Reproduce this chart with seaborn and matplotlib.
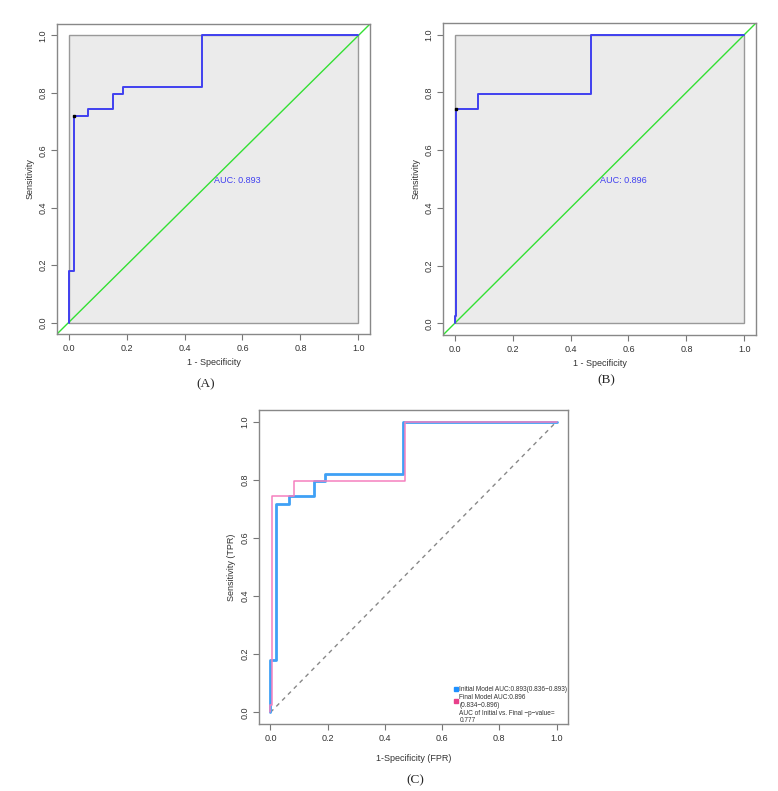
import matplotlib
matplotlib.use("Agg")
import matplotlib.pyplot as plt
import matplotlib.patches as mpatches
import pandas as pd
import seaborn as sns

sns.set_theme(style="white")
plt.rcParams['font.family'] = ['Liberation Sans', 'DejaVu Sans']

# ROC corner points (steps-post)
initial_fpr = [0.0, 0.0, 0.018, 0.066, 0.152, 0.189, 0.462, 1.0]
initial_tpr = [0.0, 0.179, 0.718, 0.744, 0.795, 0.821, 1.0, 1.0]
final_fpr = [0.0, 0.0, 0.005, 0.081, 0.472, 1.0]
final_tpr = [0.0, 0.026, 0.744, 0.795, 1.0, 1.0]

best_initial = (0.018, 0.718)
best_final = (0.005, 0.744)
auc_initial = 0.893
auc_final = 0.896
ci_initial = (0.836, 0.893)
ci_final = (0.834, 0.896)
p_value = 0.777

ticks = [0.0, 0.2, 0.4, 0.6, 0.8, 1.0]
tick_labels = ["0.0", "0.2", "0.4", "0.6", "0.8", "1.0"]

W, H = 778, 791
fig = plt.figure(figsize=(W / 100, H / 100), dpi=100)


def px_axes(x0, y0, x1, y1):
    return fig.add_axes([x0 / W, 1 - y1 / H, (x1 - x0) / W, (y1 - y0) / H])


def style_axes(ax, xlabel, ylabel):
    ax.set_xlim(-0.04, 1.04)
    ax.set_ylim(-0.04, 1.04)
    ax.set_xticks(ticks)
    ax.set_yticks(ticks)
    ax.set_xticklabels(tick_labels, fontsize=6.5, color="#333333")
    ax.set_yticklabels(tick_labels, fontsize=6.5, color="#333333",
                       rotation=90, va="center")
    ax.tick_params(axis="both", direction="out", length=4, width=0.8,
                   color="#777777", pad=3, bottom=True, left=True)
    for sp in ax.spines.values():
        sp.set_color("#888888")
        sp.set_linewidth(1.0)
    ax.set_xlabel(xlabel, fontsize=6.5, color="#333333", labelpad=4)
    ax.set_ylabel(ylabel, fontsize=6.5, color="#333333", labelpad=3)
    ax.set_facecolor("white")


def pROC_panel(ax, fpr, tpr, best, auc):
    ax.add_patch(mpatches.Rectangle((0, 0), 1, 1, facecolor="#EBEBEB",
                                    edgecolor="#999999", lw=1.0, zorder=1))
    ax.axline((0, 0), (1, 1), color="#33E033", lw=1.0, zorder=2)
    df = pd.DataFrame({"fpr": fpr, "tpr": tpr})
    sns.lineplot(data=df, x="fpr", y="tpr", ax=ax, estimator=None, sort=False,
                 drawstyle="steps-post", color="#4040F0", lw=1.4, zorder=3)
    ax.plot(*best, "s", color="black", ms=1.6, zorder=4)
    ax.text(0.5, 0.48, f"AUC: {auc:.3f}", color="#4040F0", fontsize=6.5,
            ha="left", va="bottom", zorder=5)
    style_axes(ax, "1 - Specificity", "Sensitivity")


# Panel A
axA = px_axes(57, 24, 370, 334)
pROC_panel(axA, initial_fpr, initial_tpr, best_initial, auc_initial)
fig.text(206 / W, 1 - 384 / H, "(A)", family="Liberation Serif", fontsize=9.5,
         ha="center", va="center")

# Panel B
axB = px_axes(443, 23, 756, 335)
pROC_panel(axB, final_fpr, final_tpr, best_final, auc_final)
fig.text(606 / W, 1 - 380 / H, "(B)", family="Liberation Serif", fontsize=9.5,
         ha="center", va="center")

# Panel C
axC = px_axes(259, 410, 568, 724)
axC.plot([0, 1], [0, 1], ls=(0, (3, 3)), color="#888888", lw=1.0, zorder=1)
dfi = pd.DataFrame({"fpr": initial_fpr, "tpr": initial_tpr})
dff = pd.DataFrame({"fpr": final_fpr, "tpr": final_tpr})
sns.lineplot(data=dfi, x="fpr", y="tpr", ax=axC, estimator=None, sort=False,
             drawstyle="steps-post", color="#3FA0F5", lw=2.0, zorder=2)
sns.lineplot(data=dff, x="fpr", y="tpr", ax=axC, estimator=None, sort=False,
             drawstyle="steps-post", color="#F580BE", lw=1.1, zorder=3)
style_axes(axC, "1-Specificity (FPR)", "Sensitivity (TPR)")
axC.xaxis.labelpad = 8

# legend (R-style, no frame, tight)
lx = 0.66
axC.plot(lx - 0.013, 0.079, "s", color="#1E90FF", ms=3.5)
axC.plot(lx - 0.013, 0.038, "s", color="#E8408A", ms=3.5)
leg_kw = dict(fontsize=4.7, color="#333333", ha="left", va="center")
axC.text(lx, 0.079, f"Initial Model AUC:{auc_initial:.3f}({ci_initial[0]:.3f}\u2212{ci_initial[1]:.3f})", **leg_kw)
axC.text(lx, 0.050, f"Final Model AUC:{auc_final:.3f}", **leg_kw)
axC.text(lx, 0.023, f"({ci_final[0]:.3f}\u2212{ci_final[1]:.3f})", **leg_kw)
axC.text(lx, -0.003, "AUC of Initial vs. Final \u2212p\u2212value=", **leg_kw)
axC.text(lx, -0.029, f"{p_value:.3f}", **leg_kw)

fig.text(415 / W, 1 - 780 / H, "(C)", family="Liberation Serif", fontsize=9.5,
         ha="center", va="center")

fig.savefig("out.png", dpi=100)
